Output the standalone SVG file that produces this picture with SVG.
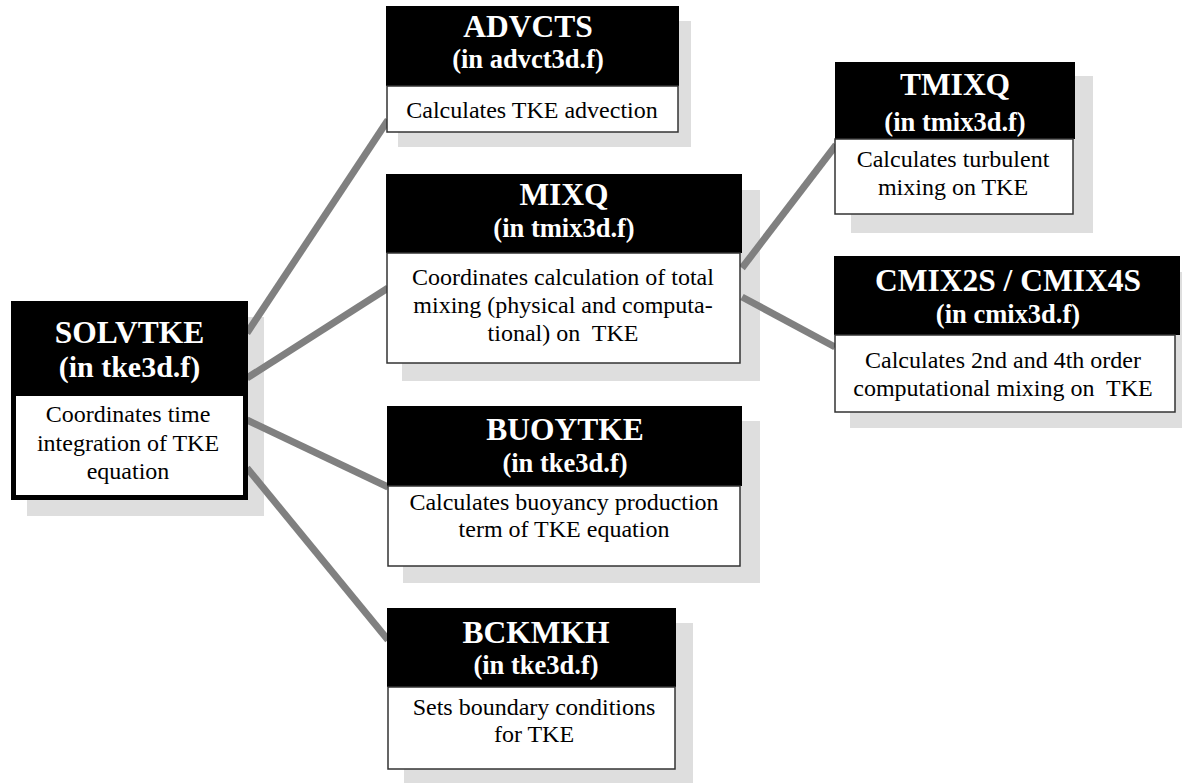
<svg xmlns="http://www.w3.org/2000/svg" width="1182" height="783" viewBox="0 0 1182 783">
  <style>
    .shadow { fill: #dedede; }
    .head { fill: #000000; }
    .body { fill: #ffffff; stroke: #333333; stroke-width: 1.5; }
    text { font-family: 'Liberation Serif', 'Times New Roman', Times, 'DejaVu Serif', serif; }
    .title { font-weight: bold; font-size: 31.5px; fill: #ffffff; text-anchor: middle; }
    .sub { font-weight: bold; font-size: 26.5px; fill: #ffffff; text-anchor: middle; }
    .txt { font-size: 24px; fill: #000000; text-anchor: middle; white-space: pre; }
    .link { stroke: #808080; stroke-width: 7; fill: none; }
  </style>

  <!-- drop shadows -->
  <g id="shadows">
    <rect class="shadow" x="27" y="317" width="237" height="199"/>
    <rect class="shadow" x="398" y="21" width="293" height="126"/>
    <rect class="shadow" x="851" y="76" width="242" height="157"/>
    <rect class="shadow" x="402" y="190" width="358" height="191"/>
    <rect class="shadow" x="850" y="272" width="332" height="156"/>
    <rect class="shadow" x="403" y="421" width="357" height="162"/>
    <rect class="shadow" x="404" y="623" width="289" height="165"/>
  </g>

  <!-- call-tree links -->
  <g id="connectors">
    <line class="link" x1="247" y1="333" x2="388" y2="120"/>
    <line class="link" x1="247" y1="378" x2="388" y2="288"/>
    <line class="link" x1="247" y1="420" x2="388" y2="487"/>
    <line class="link" x1="247" y1="468" x2="388" y2="640"/>
    <line class="link" x1="742" y1="268" x2="836" y2="145"/>
    <line class="link" x1="742" y1="297" x2="835" y2="347"/>
  </g>

  <g id="solvtke">
    <rect class="head" x="11" y="301" width="237" height="199"/>
    <rect x="16" y="396" width="227" height="99" fill="#ffffff"/>
    <text class="title" x="129.5" y="343" font-family="Liberation Serif, serif">SOLVTKE</text>
    <text class="sub" x="129.5" y="377" style="font-size:30px">(in tke3d.f)</text>
    <text class="txt" x="128" y="422">Coordinates time</text>
    <text class="txt" x="128" y="451">integration of TKE</text>
    <text class="txt" x="128" y="479">equation</text>
  </g>

  <g id="advcts">
    <rect class="head" x="386" y="6" width="293" height="80"/>
    <rect class="body" x="387" y="86" width="291" height="46"/>
    <text class="title" x="528" y="37">ADVCTS</text>
    <text class="sub" x="528" y="68">(in advct3d.f)</text>
    <text class="txt" x="532" y="118">Calculates TKE advection</text>
  </g>

  <g id="tmixq">
    <rect class="head" x="835" y="62" width="240" height="77"/>
    <rect class="body" x="835" y="139" width="238" height="75"/>
    <text class="title" x="955" y="95">TMIXQ</text>
    <text class="sub" x="955" y="131">(in tmix3d.f)</text>
    <text class="txt" x="953" y="167">Calculates turbulent</text>
    <text class="txt" x="953" y="195">mixing on TKE</text>
  </g>

  <g id="mixq">
    <rect class="head" x="386" y="174" width="356" height="79"/>
    <rect class="body" x="387" y="253" width="353" height="110"/>
    <text class="title" x="564" y="205">MIXQ</text>
    <text class="sub" x="564" y="237">(in tmix3d.f)</text>
    <text class="txt" x="563" y="285">Coordinates calculation of total</text>
    <text class="txt" x="563" y="313">mixing (physical and computa-</text>
    <text class="txt" x="563" y="341">tional) on  TKE</text>
  </g>

  <g id="cmix">
    <rect class="head" x="834" y="256" width="346" height="79"/>
    <rect class="body" x="835" y="335" width="340" height="77"/>
    <text class="title" x="1008" y="291">CMIX2S / CMIX4S</text>
    <text class="sub" x="1008" y="323">(in cmix3d.f)</text>
    <text class="txt" x="1003" y="368">Calculates 2nd and 4th order</text>
    <text class="txt" x="1003" y="396">computational mixing on  TKE</text>
  </g>

  <g id="buoytke">
    <rect class="head" x="387" y="406" width="355" height="80"/>
    <rect class="body" x="388" y="486" width="352" height="80"/>
    <text class="title" x="565" y="440">BUOYTKE</text>
    <text class="sub" x="565" y="472">(in tke3d.f)</text>
    <text class="txt" x="564" y="510">Calculates buoyancy production</text>
    <text class="txt" x="564" y="537">term of TKE equation</text>
  </g>

  <g id="bckmkh">
    <rect class="head" x="387" y="608" width="289" height="79"/>
    <rect class="body" x="388" y="687" width="287" height="82"/>
    <text class="title" x="536" y="643">BCKMKH</text>
    <text class="sub" x="536" y="674">(in tke3d.f)</text>
    <text class="txt" x="534" y="715">Sets boundary conditions</text>
    <text class="txt" x="534" y="742">for TKE</text>
  </g>
</svg>
